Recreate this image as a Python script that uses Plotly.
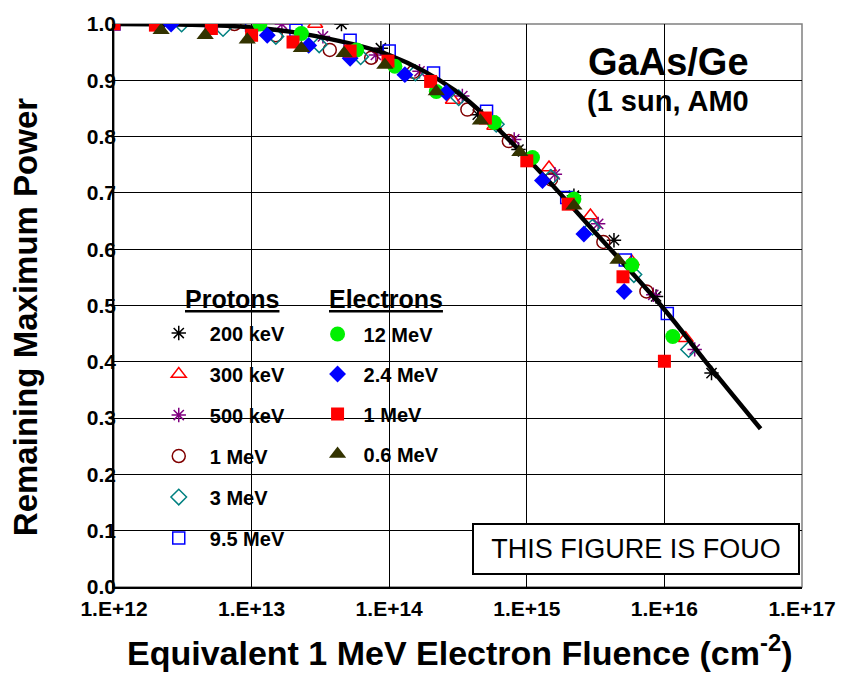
import plotly.graph_objects as go

# ---- data ----
fit_x = [1e12, 3e12, 1e13, 3e13, 1e14, 3e14, 1e15, 3e15, 1e16, 2e16, 5e16]
fit_y = [1.000, 0.999, 0.994, 0.978, 0.945, 0.882, 0.762, 0.635, 0.493, 0.400, 0.281]

p200k_x = [4.5e13, 8.7e13, 4.4e14, 8.7e14, 2.2e15, 4.3e15, 8.7e15, 2.2e16]
p200k_y = [1.0, 0.957, 0.839, 0.777, 0.695, 0.616, 0.516, 0.38]
p300k_x = [2.9e13, 2.9e14, 5.8e14, 1.45e15, 2.9e15, 5.8e15, 1.43e16]
p300k_y = [1.0, 0.865, 0.819, 0.745, 0.66, 0.578, 0.442]
p500k_x = [1.66e13, 3.3e13, 8.0e13, 1.66e14, 3.4e14, 8.1e14, 1.6e15, 3.3e15, 8.3e15, 1.66e16]
p500k_y = [1.0, 0.978, 0.945, 0.916, 0.872, 0.795, 0.733, 0.645, 0.519, 0.422]
p1m_x = [7.5e12, 1.5e13, 3.7e13, 7.4e13, 1.5e14, 3.7e14, 7.4e14, 1.5e15, 3.6e15, 7.4e15]
p1m_y = [1.0, 0.98, 0.954, 0.94, 0.915, 0.848, 0.792, 0.724, 0.613, 0.525]
p3m_x = [3.1e12, 6.2e12, 1.5e13, 3.1e13, 6.2e13, 1.55e14, 3.2e14, 6.0e14, 1.5e15, 3.0e15, 6.0e15, 1.5e16]
p3m_y = [1.0, 0.992, 0.978, 0.963, 0.942, 0.913, 0.869, 0.822, 0.727, 0.639, 0.555, 0.422]
p95m_x = [1e12, 2.1e12, 5.1e12, 1.0e13, 2.1e13, 5.2e13, 1.0e14, 2.1e14, 5.1e14, 1.95e15, 5.2e15, 1.05e16]
p95m_y = [1.0, 1.0, 1.0, 0.998, 0.989, 0.971, 0.952, 0.913, 0.845, 0.692, 0.581, 0.486]

e12m_x = [1.15e13, 2.3e13, 5.8e13, 1.1e14, 2.2e14, 5.8e14, 1.1e15, 2.2e15, 5.8e15, 1.15e16]
e12m_y = [1.0, 0.983, 0.954, 0.925, 0.88, 0.825, 0.763, 0.689, 0.572, 0.445]
e24m_x = [2.6e12, 1.3e13, 2.6e13, 5.2e13, 1.3e14, 2.6e14, 1.3e15, 2.6e15, 5.1e15]
e24m_y = [1.0, 0.98, 0.962, 0.939, 0.91, 0.878, 0.722, 0.627, 0.525]
e1m_x = [1e12, 2e12, 5.1e12, 1e13, 2e13, 5.2e13, 9.8e13, 2e14, 5e14, 1e15, 2e15, 5e15, 1e16]
e1m_y = [1.0, 0.998, 0.992, 0.98, 0.968, 0.952, 0.934, 0.898, 0.833, 0.757, 0.68, 0.551, 0.401]
e06m_x = [2.2e12, 4.6e12, 9.3e12, 2.3e13, 4.7e13, 9.3e13, 2.2e14, 4.6e14, 8.9e14, 2.2e15, 4.6e15]
e06m_y = [0.989, 0.98, 0.972, 0.957, 0.948, 0.927, 0.88, 0.828, 0.772, 0.677, 0.581]

x_tickvals = [1e12, 1e13, 1e14, 1e15, 1e16, 1e17]
x_ticktext = ["1.E+12", "1.E+13", "1.E+14", "1.E+15", "1.E+16", "1.E+17"]
y_tickvals = [0.0, 0.1, 0.2, 0.3, 0.4, 0.5, 0.6, 0.7, 0.8, 0.9, 1.0]

FONT = "Liberation Sans, Arial, sans-serif"

protons = [
    ("200 keV", p200k_x, p200k_y, "asterisk-open", "#000000", 12),
    ("300 keV", p300k_x, p300k_y, "triangle-up-open", "#ff0000", 13),
    ("500 keV", p500k_x, p500k_y, "asterisk-open", "#800080", 12),
    ("1 MeV", p1m_x, p1m_y, "circle-open", "#800000", 13),
    ("3 MeV", p3m_x, p3m_y, "diamond-open", "#008080", 12),
    ("9.5 MeV", p95m_x, p95m_y, "square-open", "#0000ff", 12),
]
electrons = [
    ("12 MeV", e12m_x, e12m_y, "circle", "#00f000", 15),
    ("2.4 MeV", e24m_x, e24m_y, "diamond", "#0000ff", 13),
    ("1 MeV", e1m_x, e1m_y, "square", "#ff0000", 13),
    ("0.6 MeV", e06m_x, e06m_y, "triangle-up", "#333300", 15),
]

# plot-area pixel geometry (used only to place decorations)
L, R, T, B = 114, 807, 20.5, 587.3
PW, PH = R - L, B - T


def px(x):
    return (x - L) / PW


def py(y):
    return (B - y) / PH


fig = go.Figure()

for name, xs, ys, sym, col, sz in protons:
    fig.add_trace(go.Scatter(
        x=xs, y=ys, mode="markers", name=name, legend="legend",
        legendgroup="p" + name,
        marker=dict(symbol=sym, color=col, size=sz, line=dict(color=col, width=1.5)),
    ))

fig.add_trace(go.Scatter(
    x=fit_x, y=fit_y, mode="lines", line=dict(color="black", width=4.5, shape="spline"),
    showlegend=False, hoverinfo="skip",
))

for name, xs, ys, sym, col, sz in electrons:
    fig.add_trace(go.Scatter(
        x=xs, y=ys, mode="markers", name=name, legend="legend2",
        legendgroup="e" + name,
        marker=dict(symbol=sym, color=col, size=sz, line=dict(width=0)),
    ))

axis_font = dict(family=FONT, size=21, color="black", weight="bold")
fig.update_xaxes(
    type="log", range=[12, 17], tickvals=x_tickvals, ticktext=x_ticktext,
    showgrid=True, gridcolor="#000000", gridwidth=1,
    showline=True, linecolor="black", linewidth=1.5,
    ticks="", ticklen=0, tickfont=axis_font, zeroline=False,
    ticklabelstandoff=2,
)
fig.update_yaxes(
    range=[0, 1.0], tickvals=y_tickvals, tickformat=".1f",
    showgrid=True, gridcolor="#000000", gridwidth=1,
    showline=True, linecolor="black", linewidth=1.5,
    ticks="", ticklen=0, tickfont=axis_font, zeroline=False,
    ticklabelstandoff=-8,
)

leg_font = dict(family=FONT, size=20, color="black", weight="bold")
head_font = dict(family=FONT, size=25, color="black", weight="bold")
fig.update_layout(
    width=848, height=674,
    margin=dict(l=114, r=41, t=20, b=87),
    paper_bgcolor="white", plot_bgcolor="white",
    showlegend=True,
    legend=dict(
        x=px(148), y=py(312), xanchor="left", yanchor="top",
        bgcolor="rgba(0,0,0,0)", borderwidth=0, font=leg_font,
        tracegroupgap=12, itemwidth=52,
    ),
    legend2=dict(
        x=px(313), y=py(313), xanchor="left", yanchor="top",
        bgcolor="rgba(0,0,0,0)", borderwidth=0, font=leg_font,
        tracegroupgap=11, itemwidth=42,
    ),
    shapes=[
        # white panels behind title and legend (cover the grid, as in the reference)
        dict(type="rect", xref="paper", yref="paper", x0=px(547), x1=px(790), y0=py(122), y1=py(29),
             fillcolor="white", line=dict(width=0), layer="between"),
        dict(type="rect", xref="paper", yref="paper", x0=px(168), x1=px(298), y0=py(557), y1=py(282),
             fillcolor="white", line=dict(width=0), layer="between"),
        dict(type="rect", xref="paper", yref="paper", x0=px(315), x1=px(458), y0=py(480), y1=py(282),
             fillcolor="white", line=dict(width=0), layer="between"),
        dict(type="rect", xref="paper", yref="paper", x0=0, x1=1, y0=0, y1=1,
             line=dict(color="#808080", width=1.5), layer="between"),
    ],
    annotations=[
        dict(text="<u>Protons</u>", xref="paper", yref="paper", x=px(233), y=py(297),
             xanchor="center", yanchor="middle", showarrow=False, font=head_font),
        dict(text="<u>Electrons</u>", xref="paper", yref="paper", x=px(388), y=py(297),
             xanchor="center", yanchor="middle", showarrow=False, font=head_font),
        dict(text="GaAs/Ge", xref="paper", yref="paper", x=px(673), y=py(59),
             xanchor="center", yanchor="middle",
             showarrow=False, font=dict(family=FONT, size=38, color="black", weight="bold")),
        dict(text="(1 sun, AM0", xref="paper", yref="paper", x=px(672), y=py(98),
             xanchor="center", yanchor="middle",
             showarrow=False, font=dict(family=FONT, size=29, color="black", weight="bold")),
        dict(text="THIS FIGURE IS FOUO", xref="paper", yref="paper", x=px(640), y=py(549),
             xanchor="center", yanchor="middle",
             showarrow=False, width=324, height=48, borderwidth=2, borderpad=0,
             bordercolor="black", bgcolor="white",
             font=dict(family=FONT, size=27, color="black")),
        dict(text="Remaining Maximum Power", xref="paper", yref="paper",
             x=px(25), y=py(316), textangle=-90, xanchor="center", yanchor="middle",
             showarrow=False, font=dict(family=FONT, size=33, color="black", weight="bold")),
        dict(text="Equivalent 1 MeV Electron Fluence (cm<sup>-2</sup>)", xref="paper", yref="paper",
             x=px(462), y=py(651), xanchor="center", yanchor="middle",
             showarrow=False, font=dict(family=FONT, size=34, color="black", weight="bold")),
    ],
)

fig.write_html("out.html")
